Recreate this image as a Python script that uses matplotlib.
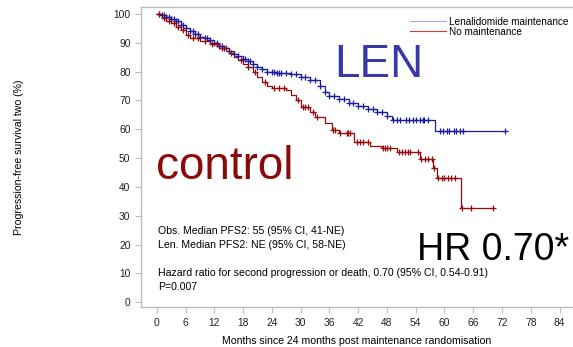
import numpy as np
import matplotlib.pyplot as plt

plt.rcParams['font.family'] = ['Liberation Sans', 'DejaVu Sans']

# Kaplan-Meier step points (months, % surviving)
len_t = [0, 1, 2, 3, 4, 5, 6, 7, 8, 9, 10, 11, 12, 13, 14, 15, 16, 17, 18, 19, 20, 21, 22, 23,
         25, 28, 30, 32, 34, 35, 36, 38, 40, 42, 44, 46, 48, 49, 58, 73]
len_s = [100, 99.5, 99, 98.3, 97.5, 96.2, 95, 94, 93, 92, 91.5, 91, 90, 89, 88, 87, 86, 85.5, 84.5,
         83.5, 82.5, 81.5, 81, 80, 79.5, 79, 78, 77, 75, 73, 71.5, 70.5, 69, 68, 67, 66, 64.5, 63.2,
         59.4, 59.4]
ctl_t = [0, 1, 2, 3, 4, 5, 6, 7, 9, 11, 13, 15, 16, 17, 18, 19, 20, 21, 22, 23, 24, 27, 28, 29,
         30, 32, 33, 35, 36.5, 38, 41.2, 44.5, 47, 50, 54.8, 57.5, 58.4, 63.4, 70]
ctl_s = [100, 98.6, 97.5, 96.8, 95.5, 94.5, 92.5, 91.5, 90.5, 89.5, 88, 86.5, 85, 84, 82.5, 81.5,
         80, 78, 76.5, 75, 74.3, 73.5, 72, 70, 67.7, 66, 64.2, 62, 59.7, 58.7, 55.6, 54, 53.5, 52,
         49.5, 46.5, 43, 32.6, 32.6]

# censoring times
len_cens = [0.5, 1, 1.5, 2, 2.5, 3, 3.5, 4, 4.5, 5, 5.5, 6, 7, 7.5, 8, 8.5, 9, 10, 10.5, 11, 12,
            12.5, 13, 13.5, 14, 15, 16, 17, 18, 18.5, 19, 19.5, 20, 21, 22, 23, 24, 24.5, 25, 25.5,
            26, 27, 28, 29, 30, 31, 32, 33, 34, 35, 36, 37, 38, 39, 40, 41, 42, 43, 44, 45, 46, 47,
            48, 49.3, 50, 50.7, 52, 52.7, 53.4, 54, 54.8, 55.5, 55.8, 56.6, 59.1, 59.7, 60.5, 61,
            62, 62.5, 63.3, 63.9, 72.6]
ctl_cens = [0.5, 1.5, 2.5, 3.5, 4.5, 5.5, 6.5, 7.5, 8.5, 10, 11.5, 12.5, 13.5, 14.5, 15.5, 17.5,
            19, 20.5, 22.5, 24.5, 25.5, 26.5, 29.5, 30.5, 31, 31.5, 32.5, 33.5, 36.8, 37.2, 38.2,
            39.7, 39.9, 40.3, 41.8, 42.4, 43, 44, 47.2, 47.6, 48, 48.6, 50.5, 51.2, 51.8, 52.3,
            52.8, 54.5, 55.2, 55.9, 56.6, 57.4, 57.8, 58.7, 59.4, 60, 60.8, 61.4, 62.2, 63.6, 65.6,
            70.1]

xticks = list(range(0, 85, 6))
yticks = list(range(0, 101, 10))

len_col = '#1c1c9c'
ctl_col = '#950a0a'
grey = '#bdbdbd'

fig = plt.figure(figsize=(5.73, 3.47), dpi=100)
ax = fig.add_axes([0.246, 0.115, 0.754, 0.865])


def at(ts, ss, c):
    i = np.searchsorted(ts, c, side='right') - 1
    return np.array(ss)[i]


ax.step(len_t, len_s, where='post', color=len_col, lw=0.9, label='Lenalidomide maintenance')
ax.step(ctl_t, ctl_s, where='post', color=ctl_col, lw=0.9, label='No maintenance')
ax.plot(len_cens, at(len_t, len_s, len_cens), '+', color=len_col, ms=5, mew=0.9)
ax.plot(ctl_cens, at(ctl_t, ctl_s, ctl_cens), '+', color=ctl_col, ms=5, mew=0.9)

ax.set_xlim(-3.3, 86.8)
ax.set_ylim(-1.7, 102.4)
ax.set_xticks(xticks)
ax.set_yticks(yticks)
ax.tick_params(labelsize=7.4, color=grey, length=4, width=0.8, labelcolor='#222222')
for side in ['left', 'bottom', 'top']:
    ax.spines[side].set_color(grey)
    ax.spines[side].set_linewidth(1)
ax.spines['right'].set_visible(False)

ax.set_xlabel('Months since 24 months post maintenance randomisation', fontsize=7.6, labelpad=6)
ax.set_ylabel('Progression-free survival two (%)', fontsize=7.6)
ax.yaxis.set_label_coords(-0.27, 0.5)

leg = ax.legend(loc='upper right', bbox_to_anchor=(1.005, 0.99), fontsize=7.2, frameon=False,
                handlelength=3.6, handletextpad=0.25, labelspacing=0.0, borderaxespad=0.3)
for h, c in zip(leg.get_lines(), ['#a8a8e0', '#d03a3a']):
    h.set_linewidth(0.8)
    h.set_color(c)

ax.text(37, 82.3, 'LEN', fontsize=33, color='#3838a8', va='center')
ax.text(-0.2, 47, 'control', fontsize=33, color='#8b0a0a', va='center')
ax.text(54.2, 18, 'HR 0.70*', fontsize=27, color='black', va='center')

ax.text(0.2, 24.8, 'Obs. Median PFS2: 55 (95% CI, 41-NE)', fontsize=7.6, va='center')
ax.text(0.2, 20.0, 'Len. Median PFS2: NE (95% CI, 58-NE)', fontsize=7.6, va='center')
ax.text(0.2, 10.0, 'Hazard ratio for second progression or death, 0.70 (95% CI, 0.54-0.91)',
        fontsize=7.6, va='center')
ax.text(0.2, 5.1, 'P=0.007', fontsize=7.6, va='center')

fig.savefig('out.png', dpi=100)
